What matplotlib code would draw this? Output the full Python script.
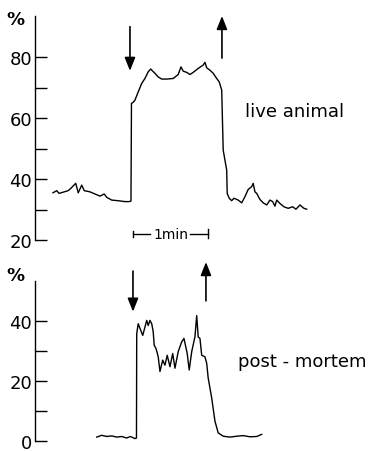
import matplotlib
matplotlib.use("Agg")
import matplotlib.pyplot as plt

# time in seconds, oxygen saturation in %
live_t = [0, 3, 4.8, 8.2, 12.2, 14.4, 18.2, 20.2, 23, 25, 29.6, 33.6, 37.6, 41, 43,
          47, 52, 57.6, 60.8, 62.4, 62.8, 64.2, 65.6, 68.2, 71, 73.6, 76.2, 78.2,
          79.8, 81.6, 84.2, 87, 91, 96.2, 100.2, 102.4, 104.2, 107, 109.6, 112.2,
          116.2, 120.2, 121.6, 123, 125.6, 128.2, 131, 133, 135, 135.6, 136.2,
          137.6, 139, 139.4, 141, 143, 144.8, 148.2, 151, 153.6, 156.2, 159, 160.2,
          161.6, 163, 165.6, 168.2, 171, 173.6, 175.8, 177.6, 179, 181.6, 184.8,
          188.2, 191.8, 194.4, 197.6, 200.8, 203]
live_v = [35.5, 36.2, 35.3, 35.7, 36.2, 37.0, 38.6, 35.5, 38.0, 36.2, 35.8, 35.1,
          34.4, 35.1, 34.0, 33.1, 32.9, 32.6, 32.6, 32.8, 64.8, 65.2, 65.9, 68.6,
          71.4, 73.0, 75.2, 76.1, 75.4, 74.7, 73.5, 72.8, 72.8, 73.0, 74.3, 76.8,
          75.4, 75.0, 74.3, 75.0, 76.3, 77.4, 78.3, 76.5, 75.7, 74.7, 73.0, 71.9,
          69.2, 59.3, 49.5, 46.2, 42.9, 35.3, 33.7, 32.9, 33.7, 33.1, 32.2, 34.2,
          36.6, 37.5, 38.6, 35.8, 35.3, 33.3, 32.2, 31.5, 33.1, 32.6, 31.1, 33.1,
          32.0, 30.9, 30.4, 30.9, 30.1, 31.5, 30.4, 30.1]

pm_t = [35, 39, 43, 47, 51, 55, 59, 62, 65.6, 66.8, 67, 68.2, 70.2, 71.8, 73.6, 75,
        76.2, 77.6, 79, 80.2, 81, 82.4, 84.2, 85.6, 87.8, 89.6, 91.4, 93.6, 95.8,
        97.6, 100.2, 103, 104.8, 107.4, 109, 111, 113.6, 115, 116.2, 117.6, 119,
        121.6, 123, 124.2, 127, 129.6, 132.2, 136.2, 141.6, 147, 152.2, 157.6,
        163, 167]
pm_v = [1.3, 1.9, 1.5, 1.7, 1.3, 1.5, 1.0, 1.5, 0.8, 1.0, 35.7, 39.0, 36.8, 35.1,
        37.9, 40.1, 38.4, 40.1, 39.0, 36.3, 31.8, 30.8, 28.0, 23.1, 26.9, 25.2,
        28.5, 24.7, 29.1, 24.2, 29.7, 33.0, 34.1, 29.1, 23.6, 29.7, 34.7, 41.7,
        34.6, 34.1, 28.5, 28.0, 25.8, 20.9, 14.3, 6.6, 2.7, 1.6, 1.3, 1.6, 1.8,
        1.4, 1.5, 2.2]

live_ticks = [20, 40, 60, 80]
live_minor = [30, 50, 70]
pm_ticks = [0, 20, 40]
pm_minor = [10, 30]

# arrows: (time, value start, value end)
live_arrows = [(61.6, 90, 75.5), (135.2, 79.7, 93.5)]
pm_arrows = [(64, 56.5, 43), (122.4, 46.6, 59.5)]

fig = plt.figure(figsize=(3.73, 4.52), dpi=100)
ax1 = fig.add_axes([0.0938, 0.4668, 0.906, 0.4956])
ax2 = fig.add_axes([0.0938, 0.0221, 0.906, 0.3540])

FS = 13


def style(ax, ymin, ymax, major, minor):
    ax.set_xlim(-14.4, 256)
    ax.set_ylim(ymin, ymax)
    for s in ['top', 'right', 'bottom']:
        ax.spines[s].set_visible(False)
    ax.spines['left'].set_linewidth(1.0)
    ax.set_xticks([])
    ax.set_yticks(major)
    ax.set_yticks(minor, minor=True)
    ax.tick_params(axis='y', which='both', direction='in', length=8.5, width=1.0,
                   pad=2, labelsize=FS)


style(ax1, 20, 93.5, live_ticks, live_minor)
style(ax2, 0, 53.2, pm_ticks, pm_minor)

fig.text(15 / 373, 1 - 20 / 452, '%', fontsize=FS, ha='center', va='center',
         fontweight='bold')
fig.text(15 / 373, 1 - 276 / 452, '%', fontsize=FS, ha='center', va='center',
         fontweight='bold')

ax1.plot(live_t, live_v, color='k', lw=1.0)
ax2.plot(pm_t, pm_v, color='k', lw=1.0)

for ax, arrows in [(ax1, live_arrows), (ax2, pm_arrows)]:
    for t, v0, v1 in arrows:
        ax.annotate('', xy=(t, v1), xytext=(t, v0), annotation_clip=False,
                    arrowprops=dict(arrowstyle='-|>,head_length=0.5,head_width=0.2',
                                    lw=1.2, color='k', mutation_scale=16,
                                    shrinkA=0, shrinkB=0))

ax1.text(0.62, 0.575, 'live animal', transform=ax1.transAxes, fontsize=FS,
         ha='left', va='center')
ax2.text(0.60, 0.50, 'post - mortem', transform=ax2.transAxes, fontsize=FS,
         ha='left', va='center')

# 1 min scale bar
sb_t, sb_len, sb_y = 64, 60, 22
ax1.plot([sb_t, sb_t + 14], [sb_y, sb_y], color='k', lw=1.0)
ax1.plot([sb_t + sb_len - 14, sb_t + sb_len], [sb_y, sb_y], color='k', lw=1.0)
ax1.plot([sb_t, sb_t], [sb_y - 1, sb_y + 1], color='k', lw=1.0)
ax1.plot([sb_t + sb_len] * 2, [sb_y - 1.5, sb_y + 1.5], color='k', lw=1.0)
ax1.text(sb_t + sb_len / 2, sb_y, '1min', fontsize=FS - 3, ha='center',
         va='center')

fig.savefig('out.png', dpi=100)
